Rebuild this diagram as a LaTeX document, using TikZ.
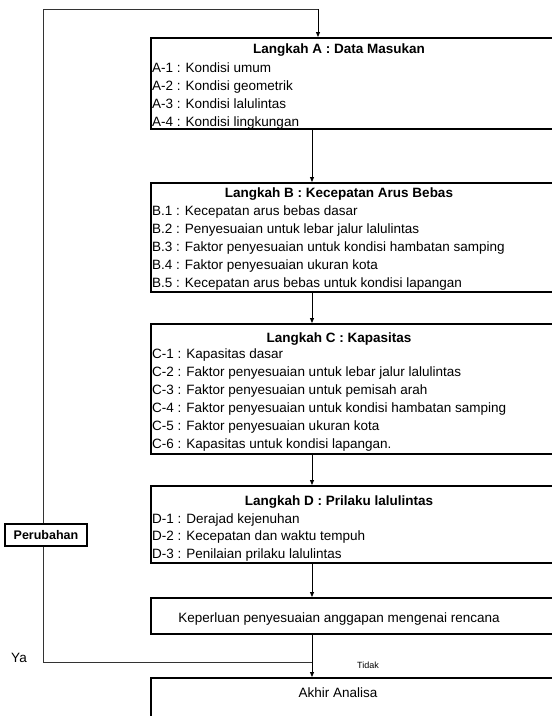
\documentclass[tikz,border=0pt]{standalone}
\usepackage{fontspec}
\setmainfont{Liberation Sans}
\usetikzlibrary{arrows.meta, positioning}

\begin{document}
\begin{tikzpicture}[x=1pt, y=-1pt,
    stepbox/.style={draw, line width=1.5pt, anchor=north west, minimum width=420pt,
                    inner sep=0pt},
    head/.style={font=\fontsize{13.5}{16}\selectfont\bfseries, anchor=base, inner sep=0pt},
    item/.style={font=\fontsize{13.5}{16}\selectfont, anchor=base west, inner sep=0pt},
    txt/.style={font=\fontsize{13.5}{16}\selectfont, anchor=base, inner sep=0pt},
    arr/.style={-{Triangle[length=5pt, width=4pt]}, line width=0.8pt},
    loopline/.style={line width=0.8pt, black!80}
  ]
    \useasboundingbox (0,0) rectangle (552,716);
    \clip (0,0) rectangle (552,716);

    %% columns of the arrows
    \coordinate (colA) at (318,0);
    \coordinate (col) at (312,0);
    \coordinate (colP) at (43,0);
    \coordinate (top) at (0,9);

    %% Langkah A
    \node[stepbox, minimum height=91pt] (A) at (150,37) {};
    \node[head] (A-h) at (339,53) {Langkah A : Data Masukan};
    \foreach \t [count=\i] in {A-1 : Kondisi umum, A-2 : Kondisi geometrik,
        A-3 : Kondisi lalulintas, A-4 : Kondisi lingkungan}
      \node[item] (A-\i) at (152,72.5+18*\i-18) {\t};

    %% Langkah B
    \node[stepbox, minimum height=109pt] (B) at (150,182) {};
    \node[head] (B-h) at (339,197) {Langkah B : Kecepatan Arus Bebas};
    \foreach \t [count=\i] in {B.1 : Kecepatan arus bebas dasar,
        B.2 : Penyesuaian untuk lebar jalur lalulintas,
        B.3 : Faktor penyesuaian untuk kondisi hambatan samping,
        B.4 : Faktor penyesuaian ukuran kota,
        B.5 : Kecepatan arus bebas untuk kondisi lapangan}
      \node[item] (B-\i) at (152,215+18*\i-18) {\t};

    %% Langkah C
    \node[stepbox, minimum height=130pt] (C) at (150,323) {};
    \node[head] (C-h) at (339,342) {Langkah C : Kapasitas};
    \foreach \t [count=\i] in {C-1 : Kapasitas dasar,
        C-2 : Faktor penyesuaian untuk lebar jalur lalulintas,
        C-3 : Faktor penyesuaian untuk pemisah arah,
        C-4 : Faktor penyesuaian untuk kondisi hambatan samping,
        C-5 : Faktor penyesuaian ukuran kota,
        C-6 : Kapasitas untuk kondisi lapangan.}
      \node[item] (C-\i) at (152,358+18*\i-18) {\t};

    %% Langkah D
    \node[stepbox, minimum height=77pt] (D) at (150,485) {};
    \node[head] (D-h) at (339,505) {Langkah D : Prilaku lalulintas};
    \foreach \t [count=\i] in {D-1 : Derajad kejenuhan,
        D-2 : Kecepatan dan waktu tempuh,
        D-3 : Penilaian prilaku lalulintas}
      \node[item] (D-\i) at (152,523+17.5*\i-17.5) {\t};

    %% keperluan + akhir
    \node[stepbox, minimum height=36pt] (K) at (150,597) {};
    \node[txt] (K-t) at (339,622) {Keperluan penyesuaian anggapan mengenai rencana};
    \node[stepbox, minimum height=60pt] (E) at (150,677) {};
    \node[txt] (E-t) at (338,697) {Akhir Analisa};

    %% loop back
    \node[draw, line width=1.2pt, font=\fontsize{12.5}{14}\selectfont\bfseries,
          minimum width=82pt, minimum height=22pt, inner sep=1pt] (P) at (46,535) {Perubahan};
    \node[txt] (ya) at (19,662) {Ya};
    \node[font=\fontsize{9}{11}\selectfont] (tidak) at (368,665) {Tidak};
    \coordinate (join) at (312,662);

    %% Arrows
    \draw[arr] (A.south -| col) -- (B.north -| col);
    \draw[arr] (B.south -| col) -- (C.north -| col);
    \draw[arr] (C.south -| col) -- (D.north -| col);
    \draw[arr] (D.south -| col) -- (K.north -| col);
    \draw[arr] (K.south -| col) -- (E.north -| col);
    \draw[loopline] (P.south -| colP) |- (join);
    \draw[loopline] (P.north -| colP) |- (top -| colA);
    \draw[arr] (top -| colA) -- (A.north -| colA);
  \end{tikzpicture}
\end{document}
